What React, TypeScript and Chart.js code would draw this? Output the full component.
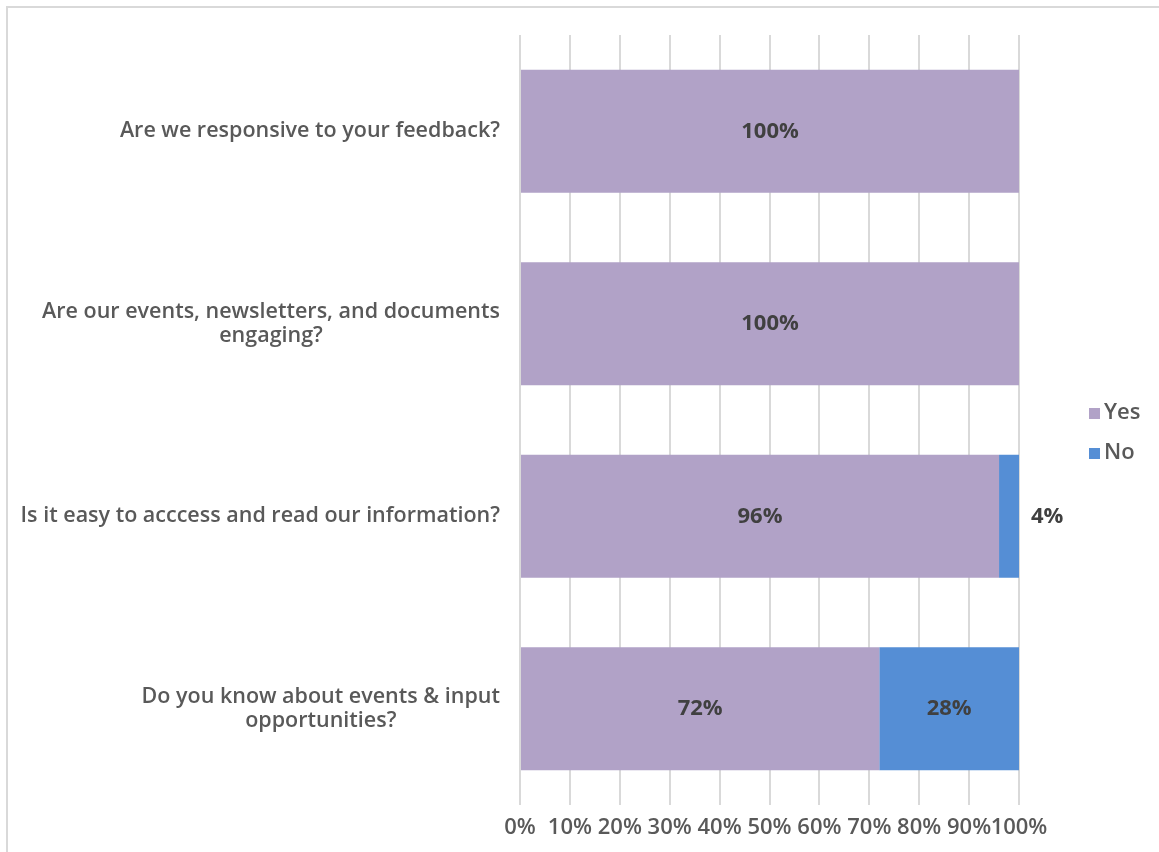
import React, { useEffect, useRef } from "react";
import { Chart, registerables } from "chart.js";

Chart.register(...registerables);

const categories: string[][] = [
  ["Are we responsive to your feedback?"],
  ["Are our events, newsletters, and documents", "engaging?"],
  ["Is it easy to acccess and read our information?"],
  ["Do you know about events & input", "opportunities?"],
];
const yesValues = [100, 100, 96, 72];
const noValues = [0, 0, 4, 28];
const seriesNames = ["Yes", "No"];
const seriesColors = ["#B1A2C7", "#558ED5"];
const xTicks = [0, 10, 20, 30, 40, 50, 60, 70, 80, 90, 100];

const FONT = "'Open Sans', 'Noto Sans', sans-serif";

const framePlugin = {
  id: "frame",
  beforeDraw(chart: any) {
    const ctx = chart.ctx;
    ctx.save();
    ctx.fillStyle = "#ffffff";
    ctx.fillRect(0, 0, chart.width, chart.height);
    ctx.strokeStyle = "#D9D9D9";
    ctx.lineWidth = 2;
    ctx.strokeRect(7, 7, chart.width + 20, chart.height + 20);
    ctx.restore();
  },
};

const categoryLabelPlugin = {
  id: "catLabels",
  afterDraw(chart: any) {
    const ctx = chart.ctx;
    const yScale = chart.scales.y;
    const right = chart.chartArea.left - 20;
    ctx.save();
    ctx.font = `600 21.5px ${FONT}`;
    ctx.fillStyle = "#595959";
    ctx.textAlign = "center";
    ctx.textBaseline = "middle";
    const lh = 24;
    (chart.data.labels as string[][]).forEach((lines, i) => {
      const cy = yScale.getPixelForValue(i);
      const widest = Math.max(...lines.map((l) => ctx.measureText(l).width));
      const cx = right - widest / 2;
      const y0 = cy - ((lines.length - 1) * lh) / 2;
      lines.forEach((l, j) => ctx.fillText(l, cx, y0 + j * lh));
    });
    ctx.restore();
  },
};

const dataLabelPlugin = {
  id: "dataLabels",
  afterDatasetsDraw(chart: any) {
    const ctx = chart.ctx;
    ctx.save();
    ctx.font = `700 22px ${FONT}`;
    ctx.fillStyle = "#404040";
    ctx.textBaseline = "middle";
    chart.data.datasets.forEach((ds: any, di: number) => {
      const meta = chart.getDatasetMeta(di);
      meta.data.forEach((el: any, i: number) => {
        const v = ds.data[i];
        if (!v) return;
        const text = `${v}%`;
        const w = ctx.measureText(text).width;
        const left = Math.min(el.x, el.base);
        const rightX = Math.max(el.x, el.base);
        if (rightX - left < w + 6) {
          ctx.textAlign = "left";
          ctx.fillText(text, rightX + 12, el.y);
        } else {
          ctx.textAlign = "center";
          ctx.fillText(text, (left + rightX) / 2, el.y);
        }
      });
    });
    ctx.restore();
  },
};

const legendPlugin = {
  id: "customLegend",
  afterDraw(chart: any) {
    const ctx = chart.ctx;
    const x = chart.chartArea.right + 70;
    const ys = [413, 453];
    ctx.save();
    ctx.font = `600 22px ${FONT}`;
    ctx.textBaseline = "middle";
    ctx.textAlign = "left";
    chart.data.datasets.forEach((ds: any, i: number) => {
      ctx.fillStyle = ds.backgroundColor;
      ctx.fillRect(x, ys[i] - 5, 11, 11);
      ctx.fillStyle = "#595959";
      ctx.fillText(ds.label, x + 15, ys[i]);
    });
    ctx.restore();
  },
};

export default function App() {
  const ref = useRef<HTMLCanvasElement | null>(null);
  useEffect(() => {
    if (!ref.current) return;
    const chart = new Chart(ref.current, {
      type: "bar",
      data: {
        labels: categories as any,
        datasets: [
          {
            label: seriesNames[0],
            data: yesValues,
            backgroundColor: seriesColors[0],
            barPercentage: 0.64,
            categoryPercentage: 1,
          },
          {
            label: seriesNames[1],
            data: noValues,
            backgroundColor: seriesColors[1],
            barPercentage: 0.64,
            categoryPercentage: 1,
          },
        ],
      },
      options: {
        indexAxis: "y",
        responsive: false,
        animation: false,
        devicePixelRatio: 1,
        layout: { padding: { left: 0, top: 35, right: 140, bottom: 0 } },
        plugins: {
          legend: { display: false },
          tooltip: { enabled: false },
        },
        scales: {
          x: {
            stacked: true,
            min: 0,
            max: 100,
            afterBuildTicks(scale: any) {
              scale.ticks = xTicks.map((v) => ({ value: v }));
            },
            afterFit(scale: any) {
              scale.height = 47;
            },
            border: { display: false },
            grid: { color: "#D9D9D9", lineWidth: 2, drawTicks: false },
            ticks: {
              autoSkip: false,
              maxRotation: 0,
              padding: 10,
              color: "#595959",
              font: { family: FONT, size: 22, weight: "600" as any },
              callback: (v: any) => `${v}%`,
            },
          },
          y: {
            stacked: true,
            afterFit(scale: any) {
              scale.width = 520;
            },
            border: { display: false },
            grid: { display: false },
            ticks: { display: false },
          },
        },
      },
      plugins: [framePlugin, categoryLabelPlugin, dataLabelPlugin, legendPlugin],
    });
    return () => chart.destroy();
  }, []);
  return (
    <div style={{ position: "absolute", left: 0, top: 0, width: 1159, height: 852, background: "#fff" }}>
      <canvas ref={ref} width={1159} height={852} style={{ width: 1159, height: 852, display: "block" }} />
    </div>
  );
}
